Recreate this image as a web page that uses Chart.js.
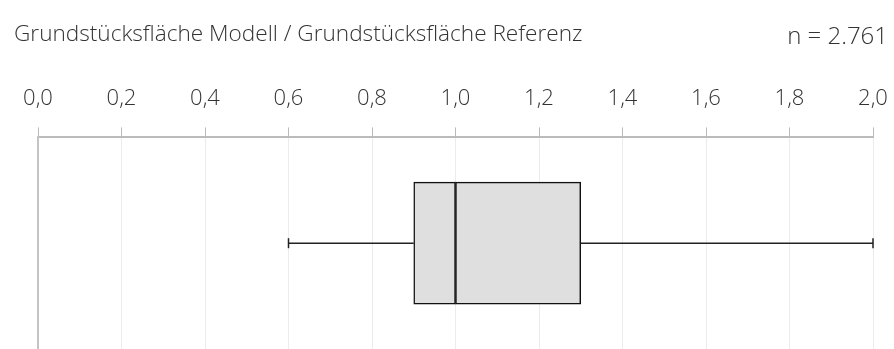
<!DOCTYPE html>
<html>
<head>
<meta charset="utf-8">
<script src="https://cdn.jsdelivr.net/npm/chart.js@4.4.1/dist/chart.umd.min.js"></script>
<style>
  html, body { margin: 0; padding: 0; background: #fff; }
  #wrap { position: relative; width: 894px; height: 349px; }
  #titel { position: absolute; left: 14px; top: 17px; font: 300 22.6px "Open Sans", sans-serif; color: #333; white-space: nowrap; }
  #anzahl { position: absolute; right: 6px; top: 18px; font: 300 24px "Open Sans", sans-serif; color: #333; white-space: nowrap; }
</style>
</head>
<body>
<div id="wrap">
  <canvas id="grafik" width="894" height="349"></canvas>
  <div id="titel">Grundstücksfläche Modell / Grundstücksfläche Referenz</div>
  <div id="anzahl">n = 2.761</div>
</div>
<script>
// Kennwerte des Boxplots
var kategorien = ['Verhältnis'];
var minimum = [0.6];
var quartil1 = [0.9];
var median = [1.0];
var quartil3 = [1.3];
var maximum = [2.0];
var achseMin = 0, achseMax = 2, schritt = 0.2;

// Whisker über die Skalen des Diagramms zeichnen
var whiskerPlugin = {
  id: 'whisker',
  afterDatasetsDraw: function(chart) {
    var c = chart.ctx;
    var x = chart.scales.x, y = chart.scales.y;
    c.save();
    c.strokeStyle = '#222';
    c.lineWidth = 1.5;
    for (var i = 0; i < kategorien.length; i++) {
      var ym = y.getPixelForValue(i);
      var teile = [[minimum[i], quartil1[i]], [quartil3[i], maximum[i]]];
      teile.forEach(function(t) {
        c.beginPath();
        c.moveTo(x.getPixelForValue(t[0]), ym);
        c.lineTo(x.getPixelForValue(t[1]), ym);
        c.stroke();
      });
      [minimum[i], maximum[i]].forEach(function(v) {
        var px = x.getPixelForValue(v);
        c.beginPath();
        c.moveTo(px, ym - 5);
        c.lineTo(px, ym + 5);
        c.stroke();
      });
    }
    c.restore();
  }
};

var untereHaelfte = kategorien.map(function(k, i) { return [quartil1[i], median[i]]; });
var obereHaelfte = kategorien.map(function(k, i) { return [median[i], quartil3[i]]; });

var ctx = document.getElementById('grafik').getContext('2d');
var chart = new Chart(ctx, {
  type: 'bar',
  data: {
    labels: kategorien,
    datasets: [{
      data: untereHaelfte,
      backgroundColor: '#dfdfdf',
      borderColor: '#111',
      borderWidth: 1.5,
      borderSkipped: false,
      barThickness: 122,
      grouped: false
    }, {
      data: obereHaelfte,
      backgroundColor: '#dfdfdf',
      borderColor: '#111',
      borderWidth: 1.5,
      borderSkipped: false,
      barThickness: 122,
      grouped: false
    }]
  },
  plugins: [whiskerPlugin],
  options: {
    indexAxis: 'y',
    responsive: false,
    animation: false,
    layout: { padding: { top: 71, left: 38, right: 21, bottom: 0 } },
    plugins: {
      legend: { display: false },
      tooltip: { enabled: false }
    },
    scales: {
      x: {
        position: 'top',
        min: achseMin,
        max: achseMax,
        afterFit: function(scale) {
          // Randbeschriftung darf über den Plotbereich hinausragen
          scale.paddingLeft = 0;
          scale.paddingRight = 0;
        },
        ticks: {
          stepSize: schritt,
          padding: 15,
          color: '#333',
          font: { family: 'Open Sans', size: 22, weight: 300 },
          maxRotation: 0,
          callback: function(v) { return Number(v).toFixed(1).replace('.', ','); }
        },
        grid: { color: '#ececec', tickColor: '#bbb', tickLength: 10, lineWidth: 1 },
        border: { color: '#bbb', width: 2 }
      },
      y: {
        ticks: { display: false },
        grid: { display: false, drawTicks: false },
        border: { color: '#c4c4c4', width: 2 }
      }
    }
  }
});
</script>
</body>
</html>
